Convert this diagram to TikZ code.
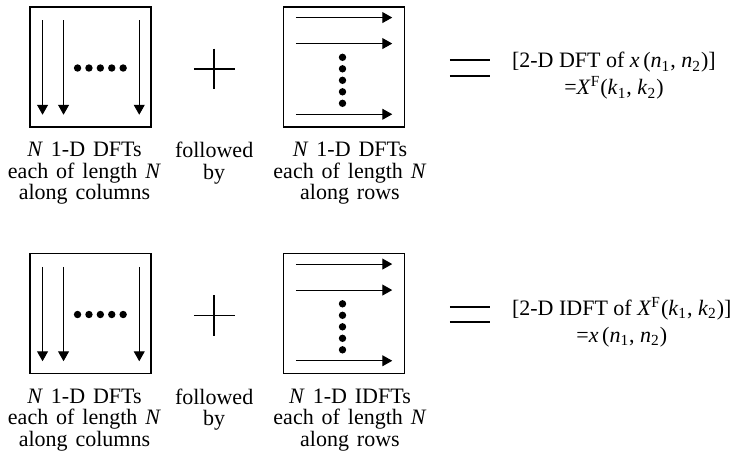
\documentclass[tikz,border=0pt]{standalone}
\usepackage{fontspec}
\setmainfont{Liberation Serif}
\usetikzlibrary{arrows.meta,positioning}

\begin{document}
\begin{tikzpicture}[
  x=0.5pt,y=-0.5pt,
  node distance=7pt and 21pt,
  frame/.style={draw,line width=0.75pt,minimum width=60.5pt,minimum height=60pt,inner sep=0pt},
  sym/.style={minimum size=20pt,inner sep=0pt},
  eqsign/.style={minimum width=19.5pt,minimum height=7.2pt,inner sep=0pt},
  lbl/.style={align=center,inner sep=0pt,font=\fontsize{11}{10.8}\selectfont,
              execute at begin node={\spaceskip=0.36em\relax}},
  res/.style={align=center,inner sep=0pt,font=\fontsize{11}{13.5}\selectfont},
  arr/.style={-{Triangle[width=5.5pt,length=5pt]},line width=0.5pt},
  bar/.style={line width=0.8pt},
  dot/.style={circle,fill,inner sep=0pt,minimum size=3.7pt}
]
\useasboundingbox (0,0) rectangle (750,462);

% first row: forward transform
\node[frame] (colsA) at (90.5,67) {};
\node[frame,right=65.5pt of colsA] (rowsA) {};
\node[sym,right=21pt of colsA,yshift=-1pt] (plusA) {};
\node[eqsign,right=22.3pt of rowsA,yshift=-0.5pt] (eqA) {};
\node[res,right=11pt of eqA,yshift=-4pt] (resA)
  {[2-D DFT of \textit{x}\,(\textit{n}\textsubscript{1}, \textit{n}\textsubscript{2})]\\
   =\textit{X}\textsuperscript{F}(\textit{k}\textsubscript{1}, \textit{k}\textsubscript{2})};
\node[lbl,below=of colsA,xshift=-3pt] (lblColA)
  {\textit{N} 1-D DFTs\\each of length \textit{N}\\along columns};
\node[lbl,anchor=north] (lblFolA) at (plusA |- lblColA.north) {followed\\by};
\node[lbl,below=of rowsA,xshift=3pt] (lblRowA)
  {\textit{N} 1-D DFTs\\each of length \textit{N}\\along rows};

% second row: inverse transform
\node[frame,below=62.5pt of colsA] (colsB) {};
\node[frame,right=65.5pt of colsB] (rowsB) {};
\node[sym,right=21pt of colsB,yshift=-1pt] (plusB) {};
\node[eqsign,right=22.3pt of rowsB,yshift=-0.5pt] (eqB) {};
\node[res,right=11pt of eqB,yshift=-4pt] (resB)
  {[2-D IDFT of \textit{X}\textsuperscript{F}(\textit{k}\textsubscript{1}, \textit{k}\textsubscript{2})]\\
   =\textit{x}\,(\textit{n}\textsubscript{1}, \textit{n}\textsubscript{2})};
\node[lbl,below=of colsB,xshift=-3pt] (lblColB)
  {\textit{N} 1-D DFTs\\each of length \textit{N}\\along columns};
\node[lbl,anchor=north] (lblFolB) at (plusB |- lblColB.north) {followed\\by};
\node[lbl,below=of rowsB,xshift=3pt] (lblRowB)
  {\textit{N} 1-D IDFTs\\each of length \textit{N}\\along rows};

\foreach \r in {A,B} {
  % plus and equals signs
  \draw[bar] (plus\r.west) -- (plus\r.east);
  \draw[bar] (plus\r.north) -- (plus\r.south);
  \draw[line width=1pt] (eq\r.north west) -- (eq\r.north east);
  \draw[line width=1pt] (eq\r.south west) -- (eq\r.south east);
  % column transforms
  \foreach \dx [count=\i] in {13.3,34.3,110} {
    \coordinate (ctop\r\i) at ([shift={(\dx,14)}]cols\r.north west);
    \coordinate (cbot\r\i) at ([shift={(\dx,-13)}]cols\r.south west);
    \draw[arr] (ctop\r\i) -- (cbot\r\i);
  }
  \foreach \k in {0,...,4}
    \node[dot] (cdot\r\k) at ([shift={({48.3+11.4*\k},1)}]cols\r.west) {};
  % row transforms
  \foreach \dy [count=\i] in {11.3,37.3,108} {
    \coordinate (rbeg\r\i) at ([shift={(13,\dy)}]rows\r.north west);
    \coordinate (rend\r\i) at ([shift={(-13,\dy)}]rows\r.north east);
    \draw[arr] (rbeg\r\i) -- (rend\r\i);
  }
  \foreach \k in {0,...,4}
    \node[dot] (rdot\r\k) at ([shift={(-1.5,{-9.7+11.5*\k})}]rows\r.center) {};
}
\end{tikzpicture}
\end{document}
